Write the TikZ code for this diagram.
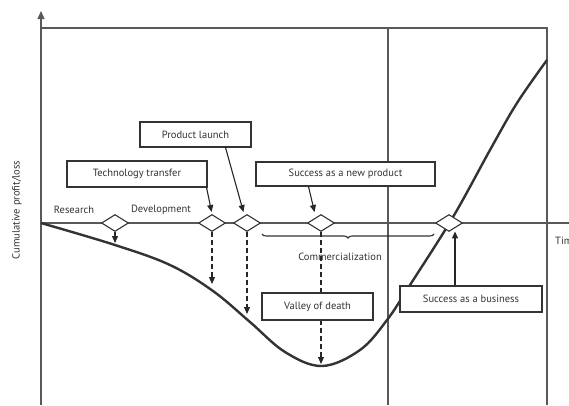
\documentclass[tikz,border=0pt]{standalone}
\usepackage{fontspec}
\setmainfont{PT Sans}
\usetikzlibrary{shapes.geometric,arrows.meta,decorations.pathreplacing}
\begin{document}
\begin{tikzpicture}[x=1pt,y=-1pt,
  frame/.style={draw=black!65, line width=1.1pt},
  lbl/.style={font=\fontsize{10.5}{12}\selectfont, text=black!80, inner sep=0pt},
  box/.style={draw=black!80, line width=1.1pt, fill=white, inner sep=0pt,
    font=\fontsize{10.5}{12}\selectfont, text=black!80},
  dia/.style={diamond, draw=black!80, line width=1.1pt, fill=white, inner sep=0pt,
    minimum width=27pt, minimum height=17pt},
  arr/.style={draw=black!85, line width=1.1pt, -{Triangle[width=6pt,length=7pt]}},
  darr/.style={arr, dash pattern=on 5pt off 3pt},
  curve/.style={draw=black!80, line width=2.4pt}
]
\useasboundingbox (0,0) rectangle (569,405);
% frame
\coordinate (yb) at (41,405);
\coordinate (yt) at (41,11);
\draw[frame, -{Triangle[width=7pt,length=8pt]}] (yb) -- (yt);
\coordinate (tl) at (41,28);
\coordinate (tr) at (547,28);
\coordinate (br) at (547,405);
\draw[frame] (tl) -- (tr) -- (br);
\coordinate (mt) at (388,28);
\coordinate (mb) at (388,405);
\draw[frame] (mt) -- (mb);
\coordinate (xa) at (41,223);
\coordinate (xb) at (569,223);
\draw[frame] (xa) -- (xb);
% curve
\draw[curve] plot[smooth, tension=0.6] coordinates {(41,223) (115,245) (170,265) (213,291) (250,322) (285,352) (322,366) (360,350) (387,320) (410,285) (453,217) (490,150) (517,103) (547,60)};
% labels
\node[lbl, rotate=90] (yl) at (17,210) {Cumulative profit/loss};
\node[lbl] (res) at (74,210) {Research};
\node[lbl] (dev) at (161,210) {Development};
\node[lbl] (com) at (340,257) {Commercialization};
\node[lbl, anchor=west] (time) at (555,241) {Time};
% brace
\coordinate (bra) at (434,234);
\coordinate (brb) at (262,234);
\draw[draw=black!80, line width=1.1pt, decorate, decoration={brace, amplitude=4pt}] (bra) -- (brb);
% diamonds
\node[dia] (d1) at (115,223) {};
\node[dia] (d2) at (212,223) {};
\node[dia] (d3) at (247,223) {};
\node[dia] (d4) at (321,223) {};
\node[dia] (d5) at (449,223) {};
% dashed drops
\coordinate (e1) at (115,243);
\coordinate (e2) at (212,284);
\coordinate (e3) at (247,314);
\coordinate (e4) at (321,364);
\draw[arr] (d1.south) -- (e1);
\draw[darr] (d2.south) -- (e2);
\draw[darr] (d3.south) -- (e3);
\draw[darr] (d4.south) -- (e4);
% boxes
\node[box, minimum width=140pt, minimum height=26pt] (tt) at (137,174) {Technology transfer};
\node[box, minimum width=111pt, minimum height=25pt] (pl) at (195.5,134.5) {Product launch};
\node[box, minimum width=179pt, minimum height=24pt] (snp) at (345.5,174) {Success as a new product};
\node[box, minimum width=111pt, minimum height=27pt] (vd) at (317.5,306.5) {Valley of death};
\node[box, minimum width=142pt, minimum height=26pt] (sb) at (471,299) {Success as a business};
% arrows from boxes
\draw[arr, shorten >=2pt] ([xshift=-1pt]tt.south east) -- (d2.north);
\draw[arr, shorten >=2pt] ([xshift=30pt]pl.south) -- ([xshift=-3pt]d3.north);
\draw[arr, shorten >=2pt] ([xshift=-37pt]snp.south) -- ([xshift=-6pt]d4.north);
\draw[arr] ([xshift=-16pt]sb.north) -- ++(0,-54);
\end{tikzpicture}
\end{document}
